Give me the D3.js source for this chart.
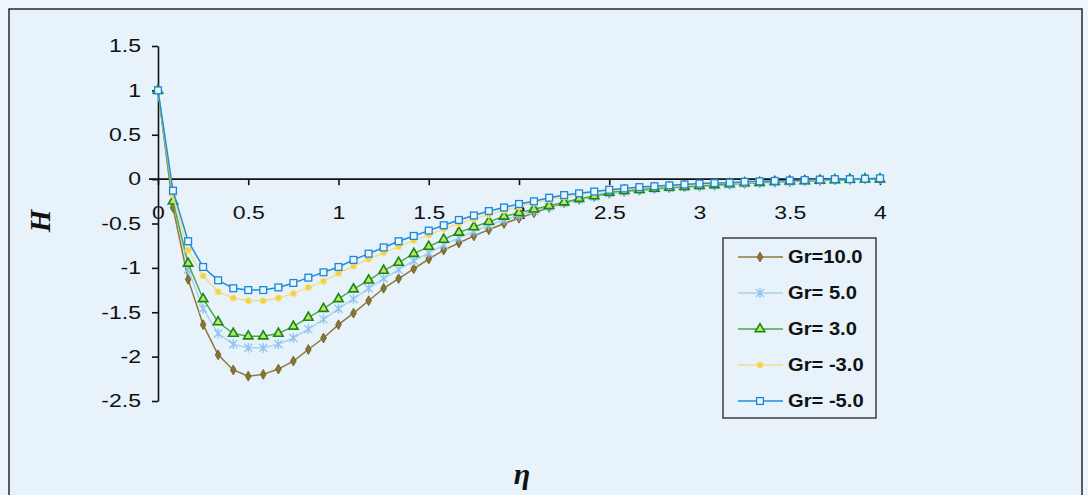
<!DOCTYPE html>
<html>
<head>
<meta charset="utf-8">
<script src="https://cdn.jsdelivr.net/npm/d3@7"></script>
<style>
  html, body { margin: 0; padding: 0; background: #eef5fb; }
  svg { display: block; }
</style>
</head>
<body>
<svg id="chart" width="1088" height="495"></svg>
<script>
// similarity variable eta
const eta = [0, 0.083, 0.167, 0.25, 0.333, 0.417, 0.5, 0.583, 0.667, 0.75, 0.833, 0.917,
  1, 1.083, 1.167, 1.25, 1.333, 1.417, 1.5, 1.583, 1.667, 1.75, 1.833, 1.917,
  2, 2.083, 2.167, 2.25, 2.333, 2.417, 2.5, 2.583, 2.667, 2.75, 2.833, 2.917,
  3, 3.083, 3.167, 3.25, 3.333, 3.417, 3.5, 3.583, 3.667, 3.75, 3.833, 3.917, 4];

// H profiles for each Grashof number
const hGr10 = [1, -0.32, -1.13, -1.64, -1.98, -2.15, -2.22, -2.20, -2.14, -2.05, -1.92, -1.79, -1.64, -1.51, -1.37, -1.23,
  -1.12, -1.01, -0.90, -0.80, -0.72, -0.64, -0.57, -0.50, -0.44, -0.38, -0.32, -0.27, -0.23, -0.20, -0.16,
  -0.14, -0.125, -0.11, -0.10, -0.09, -0.08, -0.07, -0.06, -0.05, -0.04, -0.035, -0.03, -0.02, -0.015, -0.01, -0.005, 0, 0];
const hGr5 = [1, -0.22, -1.02, -1.46, -1.74, -1.86, -1.90, -1.90, -1.86, -1.79, -1.69, -1.58, -1.46, -1.35, -1.23, -1.12,
  -1.02, -0.92, -0.83, -0.74, -0.66, -0.59, -0.52, -0.46, -0.41, -0.36, -0.31, -0.27, -0.23, -0.20, -0.16,
  -0.14, -0.12, -0.11, -0.10, -0.09, -0.08, -0.07, -0.06, -0.05, -0.04, -0.035, -0.03, -0.02, -0.015, -0.01, -0.005, 0, 0];
const hGr3 = [1, -0.25, -0.95, -1.35, -1.61, -1.74, -1.77, -1.77, -1.74, -1.66, -1.56, -1.46, -1.35, -1.24, -1.14, -1.03,
  -0.94, -0.84, -0.76, -0.68, -0.60, -0.54, -0.48, -0.42, -0.38, -0.34, -0.30, -0.26, -0.22, -0.19, -0.15,
  -0.13, -0.12, -0.105, -0.095, -0.085, -0.075, -0.065, -0.055, -0.045, -0.04, -0.03, -0.025, -0.02, -0.015, -0.01, -0.005, 0, 0];
const hGrM3 = [1, -0.18, -0.80, -1.09, -1.27, -1.34, -1.37, -1.37, -1.34, -1.29, -1.22, -1.15, -1.06, -0.98, -0.90, -0.83,
  -0.76, -0.69, -0.63, -0.56, -0.50, -0.45, -0.40, -0.35, -0.31, -0.27, -0.23, -0.20, -0.17, -0.15, -0.13,
  -0.115, -0.10, -0.09, -0.08, -0.07, -0.06, -0.05, -0.045, -0.04, -0.03, -0.025, -0.02, -0.015, -0.01, -0.005, 0, 0.005, 0.01];
const hGrM5 = [1, -0.13, -0.70, -0.99, -1.14, -1.23, -1.25, -1.25, -1.22, -1.17, -1.11, -1.05, -0.99, -0.91, -0.84, -0.77,
  -0.70, -0.64, -0.58, -0.52, -0.46, -0.41, -0.36, -0.32, -0.28, -0.25, -0.21, -0.18, -0.16, -0.14, -0.12,
  -0.105, -0.09, -0.08, -0.07, -0.06, -0.05, -0.045, -0.04, -0.03, -0.025, -0.02, -0.015, -0.01, -0.005, 0, 0, 0.005, 0.01];

const seriesNames = ["Gr=10.0", "Gr= 5.0", "Gr= 3.0", "Gr= -3.0", "Gr= -5.0"];
const seriesValues = [hGr10, hGr5, hGr3, hGrM3, hGrM5];

const xTicks = [0, 0.5, 1, 1.5, 2, 2.5, 3, 3.5, 4];
const xTickLabels = ["0", "0.5", "1", "1.5", "2", "2.5", "3", "3.5", "4"];
const yTicks = [1.5, 1, 0.5, 0, -0.5, -1, -1.5, -2, -2.5];
const yTickLabels = ["1.5", "1", "0.5", "0", "-0.5", "-1", "-1.5", "-2", "-2.5"];

// visual style of each series: line colour and marker
const styles = [
  { line: "#8c7a38", marker: "diamond", fill: "#8a7430", stroke: "#6a5822" },
  { line: "#a9d3f0", marker: "star", fill: "none", stroke: "#8ec4ee" },
  { line: "#4fa94c", marker: "triangle", fill: "#c5e063", stroke: "#128a1a" },
  { line: "#f3de84", marker: "circle", fill: "#f1d24a", stroke: "#f6e59a" },
  { line: "#1f8ddb", marker: "square", fill: "#e9f5fd", stroke: "#1a86d6" }
];

const svg = d3.select("#chart");

// widen a text element horizontally by a factor, keeping its anchor
function widen(sel, factor) {
  sel.each(function () {
    const w = this.getComputedTextLength();
    d3.select(this).attr("textLength", w * factor).attr("lengthAdjust", "spacingAndGlyphs");
  });
}

// chart area frame
svg.append("rect").attr("x", 9).attr("y", 9).attr("width", 1073).attr("height", 500)
  .attr("fill", "#e8f2fa").attr("stroke", "#2a2a2a").attr("stroke-width", 1.5);

const x = d3.scaleLinear().domain([0, 4]).range([158, 880]);
const y = d3.scaleLinear().domain([-2.5, 1.5]).range([401, 46]);

// y axis
const yAxis = d3.axisLeft(y).tickValues(yTicks)
  .tickFormat((d, i) => yTickLabels[i]).tickSize(6).tickSizeOuter(0).tickPadding(11);
const gy = svg.append("g").attr("transform", `translate(${x(0)},0)`).call(yAxis);
gy.selectAll("path, line").attr("stroke", "#111").attr("stroke-width", 1.6);

// x axis drawn through H = 0
const xAxis = d3.axisBottom(x).tickValues(xTicks)
  .tickFormat((d, i) => xTickLabels[i]).tickSize(6).tickSizeOuter(0).tickPadding(21);
const gx = svg.append("g").attr("transform", `translate(0,${y(0)})`).call(xAxis);
gx.select(".domain").remove();
gx.selectAll("line").attr("stroke", "#111").attr("stroke-width", 1.6);
gx.append("line").attr("x1", x(0) - 9).attr("x2", x(4) + 4).attr("y1", 0).attr("y2", 0)
  .attr("stroke", "#111").attr("stroke-width", 1.6);

[gx, gy].forEach(g => {
  g.attr("font-family", "Arial, 'Liberation Sans', sans-serif").attr("font-size", 18);
  g.selectAll("text").attr("fill", "#111");
  widen(g.selectAll(".tick text"), 1.28);
});

// marker drawing
function drawMarker(g, st) {
  if (st.marker === "diamond") {
    g.append("path").attr("d", d3.symbol(d3.symbolDiamond, 28)())
      .attr("fill", st.fill).attr("stroke", st.stroke).attr("stroke-width", 0.8);
  } else if (st.marker === "triangle") {
    g.append("path").attr("d", d3.symbol(d3.symbolTriangle, 38)())
      .attr("fill", st.fill).attr("stroke", st.stroke).attr("stroke-width", 1.6);
  } else if (st.marker === "circle") {
    g.append("circle").attr("r", 3.2).attr("fill", st.fill).attr("stroke", st.stroke).attr("stroke-width", 0.8);
  } else if (st.marker === "square") {
    g.append("rect").attr("x", -3.4).attr("y", -3.4).attr("width", 6.8).attr("height", 6.8)
      .attr("fill", st.fill).attr("stroke", st.stroke).attr("stroke-width", 1.3);
  } else if (st.marker === "star") {
    g.append("path").attr("d", "M-4,-4L4,4M-4,4L4,-4M0,-5L0,5")
      .attr("fill", "none").attr("stroke", st.stroke).attr("stroke-width", 1.3);
  }
}

const line = d3.line().x((d, i) => x(eta[i])).y(d => y(d));

seriesValues.forEach((vals, s) => {
  const st = styles[s];
  const g = svg.append("g");
  g.append("path").datum(vals).attr("d", line)
    .attr("fill", "none").attr("stroke", st.line).attr("stroke-width", 1.5);
  g.selectAll("g.mk").data(vals).enter().append("g").attr("class", "mk")
    .attr("transform", (d, i) => `translate(${x(eta[i])},${y(d)})`)
    .each(function () { drawMarker(d3.select(this), st); });
});

// axis titles
svg.append("text").attr("transform", "translate(50,221) rotate(-90)")
  .attr("text-anchor", "middle").attr("font-family", "'Liberation Serif', 'Times New Roman', serif")
  .attr("font-weight", "bold").attr("font-style", "italic").attr("font-size", 29).attr("fill", "#111")
  .text("H");
svg.append("text").attr("x", 522).attr("y", 484)
  .attr("text-anchor", "middle").attr("font-family", "'Liberation Serif', 'Times New Roman', serif")
  .attr("font-weight", "bold").attr("font-style", "italic").attr("font-size", 30).attr("fill", "#111")
  .text("η");

// legend
const legend = svg.append("g");
const rowY = [257, 293, 329, 365, 401];
legend.append("rect").attr("x", 723).attr("y", 238).attr("width", 153).attr("height", 180)
  .attr("fill", "#e8f2fa").attr("stroke", "#222").attr("stroke-width", 1.3);
seriesNames.forEach((name, s) => {
  const st = styles[s];
  const row = legend.append("g").attr("transform", `translate(0,${rowY[s]})`);
  row.append("line").attr("x1", 738).attr("x2", 783).attr("y1", 0).attr("y2", 0)
    .attr("stroke", st.line).attr("stroke-width", 1.5);
  drawMarker(row.append("g").attr("transform", "translate(760,0)"), st);
  const t = row.append("text").attr("x", 788).attr("y", 0).attr("dy", "0.36em")
    .attr("font-family", "Arial, 'Liberation Sans', sans-serif").attr("font-weight", "bold")
    .attr("font-size", 18).attr("fill", "#111").text(name);
  widen(t, 1.12);
});
</script>
</body>
</html>
